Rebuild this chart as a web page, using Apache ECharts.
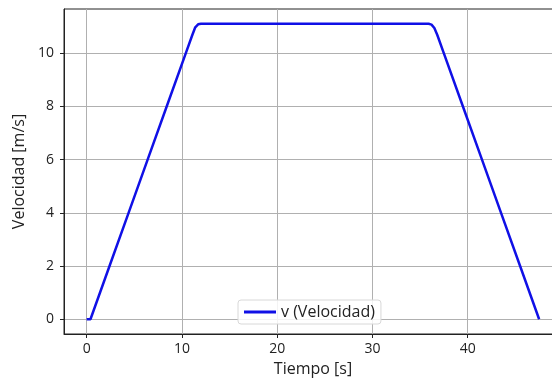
<!DOCTYPE html>
<html>
<head>
<meta charset="utf-8">
<script src="https://cdn.jsdelivr.net/npm/echarts@6/dist/echarts.min.js"></script>
<style>
  html, body { margin: 0; padding: 0; background: #fff; overflow: hidden; }
  #chart { width: 552px; height: 378px; }
</style>
</head>
<body>
<div id="chart"></div>
<script>
// tiempo [s] y velocidad [m/s]
var tiempo = [0, 0.4, 2.4, 4.4, 6.4, 8.4, 10.4, 11.1, 11.4, 11.7, 12.0, 20, 30, 35.9, 36.2, 36.5, 36.8, 37.5, 39.5, 41.5, 43.5, 45.5, 47.5]
var velocidad = [0, 0, 2, 4, 6, 8, 10, 10.7, 10.98, 11.09, 11.11, 11.11, 11.11, 11.11, 11.08, 10.95, 10.7, 10, 8, 6, 4, 2, 0]
var xTicks = [0, 10, 20, 30, 40]
var yTicks = [0, 2, 4, 6, 8, 10]
var serieNombre = 'v (Velocidad)'

var datos = tiempo.map(function (t, i) { return [t, velocidad[i]] })

var myChart = echarts.init(document.getElementById('chart'))
var font = 'Open Sans'
var option = {
  animation: false,
  backgroundColor: '#fff',
  grid: {
    left: 64,
    top: 9,
    width: 498,
    height: 325,
    outerBoundsMode: 'none',
    show: true,
    borderColor: '#222',
    borderWidth: 1
  },
  legend: {
    data: [serieNombre],
    left: 238,
    top: 300,
    padding: [4, 6, 4, 6],
    itemWidth: 32,
    itemHeight: 3,
    itemGap: 10,
    icon: 'rect',
    borderColor: '#d8d8d8',
    borderWidth: 1,
    borderRadius: 3,
    backgroundColor: 'rgba(255,255,255,0.85)',
    textStyle: {
      fontFamily: font,
      fontSize: 16,
      color: '#222'
    }
  },
  xAxis: {
    type: 'value',
    min: -2.38,
    max: 49.9,
    name: 'Tiempo [s]',
    nameLocation: 'middle',
    nameGap: 27,
    nameTextStyle: { fontFamily: font, fontSize: 16, color: '#222' },
    axisLine: { show: true, onZero: false, lineStyle: { color: '#222' } },
    axisTick: { show: true, length: 4, customValues: xTicks, lineStyle: { color: '#222' } },
    axisLabel: { customValues: xTicks, margin: 8, fontFamily: font, fontSize: 14, color: '#222' },
    splitLine: { show: true, lineStyle: { color: '#b0b0b0', width: 1 } }
  },
  yAxis: {
    type: 'value',
    min: -0.556,
    max: 11.667,
    name: 'Velocidad [m/s]',
    nameLocation: 'middle',
    nameGap: 34,
    nameTextStyle: { fontFamily: font, fontSize: 16, color: '#222' },
    axisLine: { show: true, onZero: false, lineStyle: { color: '#222' } },
    axisTick: { show: true, length: 4, customValues: yTicks, lineStyle: { color: '#222' } },
    axisLabel: { customValues: yTicks, margin: 10, fontFamily: font, fontSize: 14, color: '#222' },
    splitLine: { show: true, lineStyle: { color: '#b0b0b0', width: 1 } }
  },
  series: [
    {
      name: serieNombre,
      type: 'line',
      smooth: false,
      symbol: 'none',
      lineStyle: { color: '#1010e6', width: 2.5 },
      itemStyle: { color: '#1010e6' },
      data: datos
    }
  ]
}
myChart.setOption(option)
</script>
</body>
</html>
